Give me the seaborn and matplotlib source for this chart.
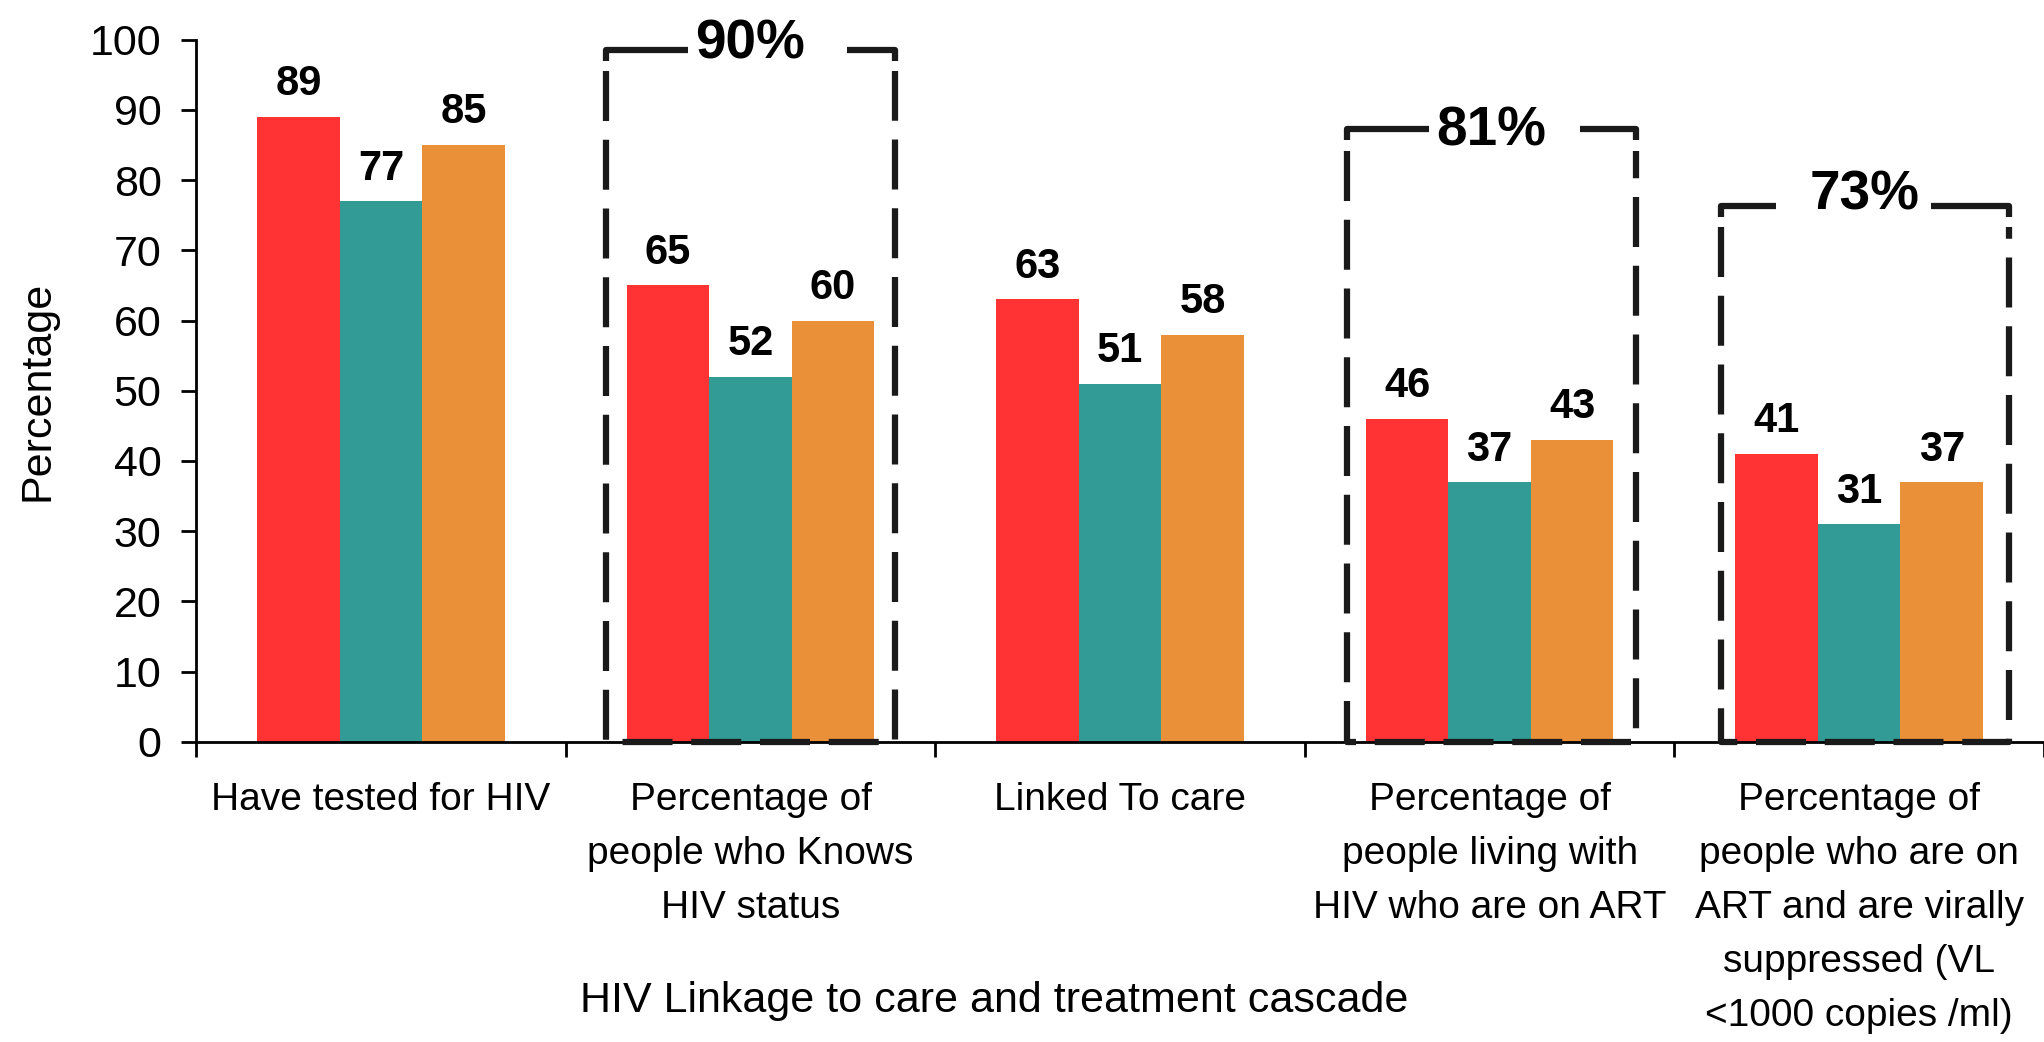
import numpy as np
import pandas as pd
import matplotlib
matplotlib.use("Agg")
import matplotlib.pyplot as plt
import seaborn as sns

# Data
categories = [
    "Have tested for HIV",
    "Percentage of\npeople who Knows\nHIV status",
    "Linked To care",
    "Percentage of\npeople living with\nHIV who are on ART",
    "Percentage of\npeople who are on\nART and are virally\nsuppressed (VL\n<1000 copies /ml)",
]
series_names = ["Series 1", "Series 2", "Series 3"]
red_vals = [89, 65, 63, 46, 41]
teal_vals = [77, 52, 51, 37, 31]
orange_vals = [85, 60, 58, 43, 37]

target_labels = ["90%", "81%", "73%"]
target_cats = [1, 3, 4]
target_tops = [98.5, 87.2, 76.3]

colors = ["#FF3333", "#339B96", "#EA9039"]
FONT = ["Liberation Sans", "DejaVu Sans"]

df = pd.DataFrame({
    "category": categories * 3,
    "series": np.repeat(series_names, len(categories)),
    "value": red_vals + teal_vals + orange_vals,
})

sns.set_style("ticks")
plt.rcParams["font.family"] = FONT
plt.rcParams["text.color"] = "black"
plt.rcParams["axes.labelcolor"] = "black"

fig = plt.figure(figsize=(20.44, 10.42), dpi=100)
ax = fig.add_axes([0.096, 0.288, 0.904, 0.674])

sns.barplot(data=df, x="category", y="value", hue="series", order=categories,
            palette=colors, saturation=1, width=0.67, gap=0, legend=False,
            linewidth=0, ax=ax)

# value labels on top of bars
for cont in ax.containers:
    ax.bar_label(cont, fmt="%d", padding=9, fontsize=30, fontweight="bold",
                 color="black")

# dashed target boxes: solid top pieces, dashed sides and bottom
gaps = [(-0.17, 0.26), (-0.17, 0.24), (-0.24, 0.18)]
centers = [1.0, 3.005, 4.015]
text_y = [99.3, 86.9, 77.8]
half = 0.39
for lab, c, top, (gl, gr), ty in zip(target_labels, centers, target_tops, gaps, text_y):
    left, right = c - half, c + half
    ax.plot([left, left, c + gl], [top - 1.5, top, top], color="#1a1a1a",
            lw=4.5, solid_capstyle="butt", zorder=5, clip_on=False)
    ax.plot([c + gr, right, right], [top, top, top - 1.5], color="#1a1a1a",
            lw=4.5, solid_capstyle="butt", zorder=5, clip_on=False)
    ax.plot([left, left, right, right], [top - 3, 0, 0, top - 3],
            color="#1a1a1a", lw=4.5, linestyle=(0, (8, 3)),
            solid_capstyle="butt", zorder=5, clip_on=False)
    ax.text(c, ty, lab, ha="center", va="center", fontsize=39.5,
            fontweight="bold")

# axes styling
ax.set_xlim(-0.5, 4.5)
ax.set_ylim(0, 100)
ax.set_yticks(range(0, 101, 10))
sns.despine(ax=ax)
for s in ["left", "bottom"]:
    ax.spines[s].set_linewidth(2)
    ax.spines[s].set_color("black")

ax.tick_params(axis="y", labelsize=31, length=11, width=2, direction="out",
               pad=14, colors="black")
ax.set_xticks(np.arange(-0.5, 4.6, 1), minor=True)
ax.tick_params(axis="x", which="minor", length=11, width=2, direction="out",
               colors="black")
ax.tick_params(axis="x", which="major", length=0, pad=29, labelsize=28,
               colors="black")
for t in ax.get_xticklabels():
    t.set_linespacing(1.64)

ax.set_xlabel("HIV Linkage to care and treatment cascade", fontsize=31)
ax.xaxis.set_label_coords(0.432, -0.34)
ax.xaxis.label.set_va("top")

ax.set_ylabel("Percentage", fontsize=31)
ax.yaxis.label.set_va("center")
ax.yaxis.set_label_coords(-0.086, 0.5)

fig.savefig("out.png", dpi=100)
